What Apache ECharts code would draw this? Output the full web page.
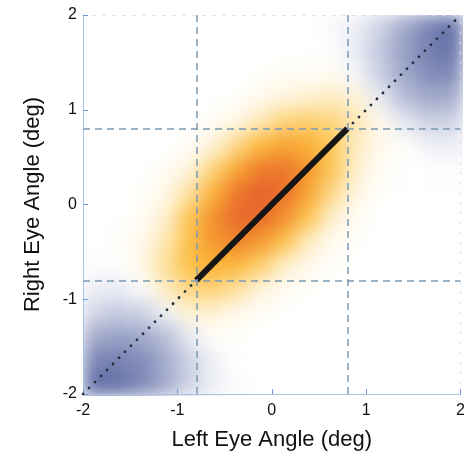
<!DOCTYPE html>
<html>
<head>
<meta charset="utf-8">
<script src="https://cdn.jsdelivr.net/npm/echarts@6/dist/echarts.min.js"></script>
<style>
  html, body { margin: 0; padding: 0; background: #fff; }
  #wrap { position: relative; width: 468px; height: 456px; }
  #heat { position: absolute; left: 83px; top: 15px; width: 380px; height: 381px; filter: url(#soft); }
  #main { position: absolute; left: 0; top: 0; width: 468px; height: 456px; }
</style>
</head>
<body>
<svg width="0" height="0" style="position:absolute">
  <filter id="soft" x="0" y="0" width="1" height="1" color-interpolation-filters="sRGB">
    <feGaussianBlur stdDeviation="9" edgeMode="duplicate"/>
  </filter>
</svg>
<div id="wrap">
  <div id="heat"></div>
  <div id="main"></div>
</div>
<script>
// cell centres of the density map (deg)
const xCenters = [-1.875, -1.625, -1.375, -1.125, -0.875, -0.625, -0.375, -0.125,
                  0.125, 0.375, 0.625, 0.875, 1.125, 1.375, 1.625, 1.875];
const yCenters = [-1.875, -1.625, -1.375, -1.125, -0.875, -0.625, -0.375, -0.125,
                  0.125, 0.375, 0.625, 0.875, 1.125, 1.375, 1.625, 1.875];

// map values, rows from top (y = 1.875) to bottom (y = -1.875)
// positive = orange density, negative = blue
const heatRows = [
  [0, 0, 0, 0, 0, 0, 0, 0, 0, 0, -0.02, -0.05, -0.14, -0.28, -0.46, -0.64],
  [0, 0, 0, 0, 0, 0, 0, 0, 0, 0, -0.01, -0.06, -0.17, -0.32, -0.48, -0.59],
  [0, 0, 0, 0, 0, 0, 0, 0.01, 0.02, 0.02, 0.03, -0.03, -0.15, -0.29, -0.41, -0.45],
  [0, 0, 0, 0, 0, 0, 0.01, 0.04, 0.07, 0.1, 0.12, 0.08, -0.06, -0.2, -0.28, -0.28],
  [0, 0, 0, 0, 0, 0.02, 0.06, 0.14, 0.23, 0.25, 0.22, 0.14, 0.04, -0.07, -0.14, -0.14],
  [0, 0, 0, 0, 0.02, 0.08, 0.21, 0.4, 0.51, 0.45, 0.28, 0.12, 0.04, 0.01, -0.04, -0.05],
  [0, 0, 0, 0.02, 0.07, 0.23, 0.5, 0.75, 0.79, 0.57, 0.29, 0.1, 0.02, 0, 0, -0.01],
  [0, 0, 0.01, 0.05, 0.17, 0.45, 0.8, 0.98, 0.84, 0.5, 0.2, 0.06, 0.01, 0, 0, 0],
  [0, 0, 0.02, 0.1, 0.3, 0.62, 0.9, 0.9, 0.62, 0.3, 0.1, 0.02, 0, 0, 0, 0],
  [0, 0.01, 0.04, 0.14, 0.34, 0.59, 0.69, 0.57, 0.32, 0.12, 0.03, 0.01, 0, 0, 0, 0],
  [-0.01, 0, 0.05, 0.18, 0.34, 0.44, 0.4, 0.25, 0.11, 0.04, 0.01, 0, 0, 0, 0, 0],
  [-0.05, -0.06, -0.01, 0.12, 0.22, 0.24, 0.17, 0.07, 0.03, 0.01, 0, 0, 0, 0, 0, 0],
  [-0.13, -0.16, -0.14, -0.04, 0.09, 0.09, 0.04, 0.02, 0, 0, 0, 0, 0, 0, 0, 0],
  [-0.28, -0.32, -0.29, -0.2, -0.06, 0.01, 0.01, 0, 0, 0, 0, 0, 0, 0, 0, 0],
  [-0.46, -0.48, -0.41, -0.27, -0.14, -0.04, 0, 0, 0, 0, 0, 0, 0, 0, 0, 0],
  [-0.64, -0.59, -0.45, -0.28, -0.14, -0.05, -0.01, 0, 0, 0, 0, 0, 0, 0, 0, 0]
];

const tickValues = [-2, -1, 0, 1, 2];
const guideLines = [-0.8, 0.8];       // dashed limits
const fitLine = [[-0.8, -0.8], [0.8, 0.8]];
const unityLine = [[-2, -2], [2, 2]];

// colours from -1 to 1 in steps of 0.1
const heatColors = [
  '#4f5b98', '#525e9b', '#56629e', '#5b67a2', '#6571a8', '#7480b1', '#8690bb',
  '#9ea6c9', '#bac0d9', '#dcdfec', '#ffffff', '#fef0cf', '#fdd98a', '#fcc652',
  '#fbb73a', '#f8a633', '#f4942f', '#f0832d', '#ec752c', '#e96a2b', '#e6602a'
];

const heatData = [];
heatRows.forEach((row, r) => {
  row.forEach((v, c) => {
    heatData.push([c, heatRows.length - 1 - r, v]);
  });
});

const heat = echarts.init(document.getElementById('heat'));
heat.setOption({
  animation: false,
  grid: { left: 0, right: 0, top: 0, bottom: 0 },
  xAxis: { type: 'category', data: xCenters, show: false },
  yAxis: { type: 'category', data: yCenters, show: false },
  visualMap: { show: false, min: -1, max: 1, inRange: { color: heatColors } },
  series: [{ type: 'heatmap', data: heatData, itemStyle: { borderWidth: 0 } }]
});

const font = '"Liberation Sans", Arial, Helvetica, sans-serif';
const axisBase = {
  type: 'value', min: -2, max: 2, interval: 1,
  axisLine: { show: true, onZero: false, lineStyle: { color: '#a9c1e3', width: 1 } },
  axisTick: { show: true, inside: true, length: 5, lineStyle: { color: '#6f98d8', width: 1 } },
  splitLine: { show: false },
  axisLabel: { color: '#111', fontSize: 16, fontFamily: font,
               formatter: v => tickValues.includes(v) ? String(v) : '' },
  nameLocation: 'middle',
  nameTextStyle: { color: '#111', fontSize: 22, fontFamily: font }
};
const edgeAxis = {
  type: 'value', min: -2, max: 2,
  axisLine: { show: true, onZero: false, lineStyle: { color: '#cfdbea', type: [2, 8], width: 1 } },
  axisTick: { show: false }, axisLabel: { show: false }, splitLine: { show: false }
};

const chart = echarts.init(document.getElementById('main'));
chart.setOption({
  animation: false,
  backgroundColor: 'transparent',
  grid: { left: 83, right: 5, top: 15, bottom: 60 },
  xAxis: [
    Object.assign({}, axisBase, { name: 'Left Eye Angle (deg)', nameGap: 35,
      axisLabel: Object.assign({}, axisBase.axisLabel, { margin: 9 }) }),
    Object.assign({}, edgeAxis, { position: 'top' })
  ],
  yAxis: [
    Object.assign({}, axisBase, { name: 'Right Eye Angle (deg)', nameGap: 39,
      axisLabel: Object.assign({}, axisBase.axisLabel, { margin: 6 }) }),
    Object.assign({}, edgeAxis, { position: 'right' })
  ],
  series: [
    {
      type: 'line', data: unityLine, symbol: 'none', silent: true, z: 3,
      lineStyle: { color: '#22303f', width: 2.8, type: [0.1, 8.4], cap: 'round' },
      markLine: {
        silent: true, symbol: 'none', label: { show: false },
        lineStyle: { color: '#7b9bb2', width: 1.5, type: [7, 5] },
        data: guideLines.map(v => ({ xAxis: v })).concat(guideLines.map(v => ({ yAxis: v })))
      }
    },
    {
      type: 'line', data: fitLine, symbol: 'none', silent: true, z: 4,
      lineStyle: { color: '#161616', width: 6, cap: 'butt' }
    }
  ]
});
</script>
</body>
</html>
